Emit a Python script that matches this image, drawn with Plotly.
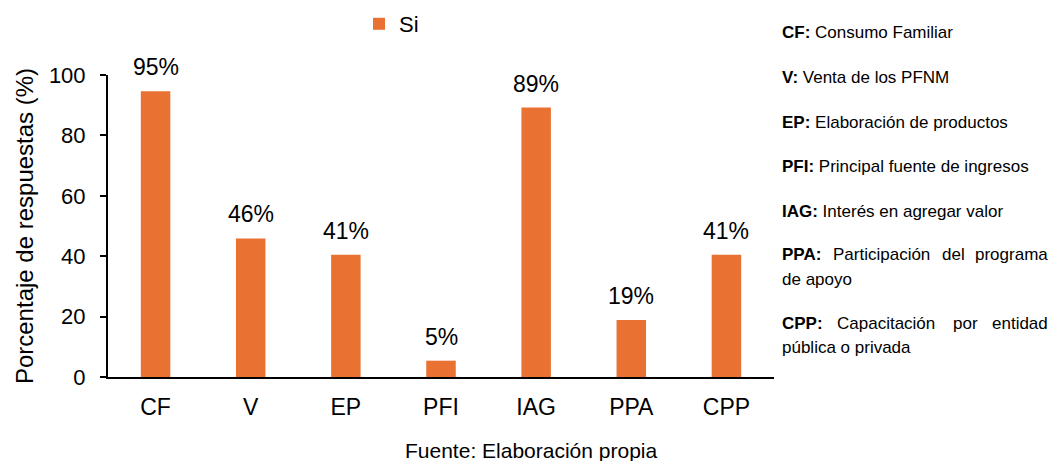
import plotly.graph_objects as go

categories = ["CF", "V", "EP", "PFI", "IAG", "PPA", "CPP"]
values = [94.6, 45.9, 40.5, 5.4, 89.2, 18.9, 40.5]
labels = ["95%", "46%", "41%", "5%", "89%", "19%", "41%"]
series_name = "Si"
y_ticks = [0, 20, 40, 60, 80, 100]

glossary = [
    ("CF:", "Consumo Familiar"),
    ("V:", "Venta de los PFNM"),
    ("EP:", "Elaboración de productos"),
    ("PFI:", "Principal fuente de ingresos"),
    ("IAG:", "Interés en agregar valor"),
]
glossary_justified = [
    ("PPA:", ["Participación", "del", "programa"], "de apoyo"),
    ("CPP:", ["Capacitación", "por", "entidad"], "pública o privada"),
]

FONT = "Liberation Sans, Arial, sans-serif"
ORANGE = "#E97132"
GLOSS_SIZE = 17

# plot area geometry (pixels)
W, H = 1054, 461
L, R, T, B = 108, 774, 75, 377
PW, PH = R - L, B - T

def px(x):
    return (x - L) / PW

def py(y):
    return (B - y) / PH

fig = go.Figure()
fig.add_trace(go.Bar(
    x=categories, y=values, name=series_name,
    marker=dict(color=ORANGE, line=dict(width=0)),
    showlegend=True,
))

annotations = []
for c, v, lab in zip(categories, values, labels):
    annotations.append(dict(
        x=c, y=v, xref="x", yref="y", text=lab, showarrow=False,
        yanchor="middle", yshift=24, font=dict(size=23, family=FONT, color="#000000"),
    ))

gfont = dict(size=GLOSS_SIZE, family=FONT, color="#000000")
# glossary on the right
row_y = [33, 77.5, 122, 166.5, 211]
for (k, t), yy in zip(glossary, row_y):
    annotations.append(dict(
        x=px(780), y=py(yy), xref="paper", yref="paper", xanchor="left", yanchor="middle",
        text=f"<b>{k}</b> {t}", showarrow=False, font=gfont,
    ))

just_rows = [(255, 279), (323.5, 347.5)]
mid_x = [[881, 953], [886, 965]]
for (k, words, line2), (y1, y2), mids in zip(glossary_justified, just_rows, mid_x):
    annotations.append(dict(
        x=px(780), y=py(y1), xref="paper", yref="paper", xanchor="left", yanchor="middle",
        text=f"<b>{k}</b>", showarrow=False, font=gfont,
    ))
    for w, mx in zip(words[:-1], mids):
        annotations.append(dict(
            x=px(mx), y=py(y1), xref="paper", yref="paper", xanchor="center", yanchor="middle",
            text=w, showarrow=False, font=gfont,
        ))
    annotations.append(dict(
        x=px(1050), y=py(y1), xref="paper", yref="paper", xanchor="right", yanchor="middle",
        text=words[-1], showarrow=False, font=gfont,
    ))
    annotations.append(dict(
        x=px(780), y=py(y2), xref="paper", yref="paper", xanchor="left", yanchor="middle",
        text=line2, showarrow=False, font=gfont,
    ))

annotations.append(dict(
    x=px(531), y=py(450), xref="paper", yref="paper", xanchor="center", yanchor="middle",
    text="Fuente: Elaboración propia", showarrow=False,
    font=dict(size=21, family=FONT, color="#000000"),
))

fig.update_layout(
    width=W, height=H,
    margin=dict(l=L, r=W - R, t=T, b=H - B, pad=0, autoexpand=False),
    paper_bgcolor="white", plot_bgcolor="white",
    font=dict(family=FONT, color="#000000"),
    bargap=0.69,
    showlegend=True,
    legend=dict(
        x=px(359), y=py(24), xanchor="left", yanchor="middle",
        orientation="h", font=dict(size=22, family=FONT, color="#000000"),
        bgcolor="rgba(0,0,0,0)", borderwidth=0,
    ),
    xaxis=dict(
        type="category", showgrid=False, showline=True, linecolor="#000000", linewidth=2,
        ticks="", tickfont=dict(size=23, family=FONT, color="#000000"),
        ticklabelstandoff=8, zeroline=False,
    ),
    yaxis=dict(
        range=[0, 100], tickvals=y_ticks, showgrid=False, showline=True,
        linecolor="#000000", linewidth=2, ticks="outside", ticklen=6, tickwidth=2,
        tickcolor="#000000", tickfont=dict(size=22, family=FONT, color="#000000"),
        ticklabelstandoff=10, zeroline=False,
        title=dict(text="Porcentaje de respuestas (%)", font=dict(size=24, family=FONT, color="#000000"),
                   standoff=8),
    ),
    annotations=annotations,
)

fig.write_html("out.html")
